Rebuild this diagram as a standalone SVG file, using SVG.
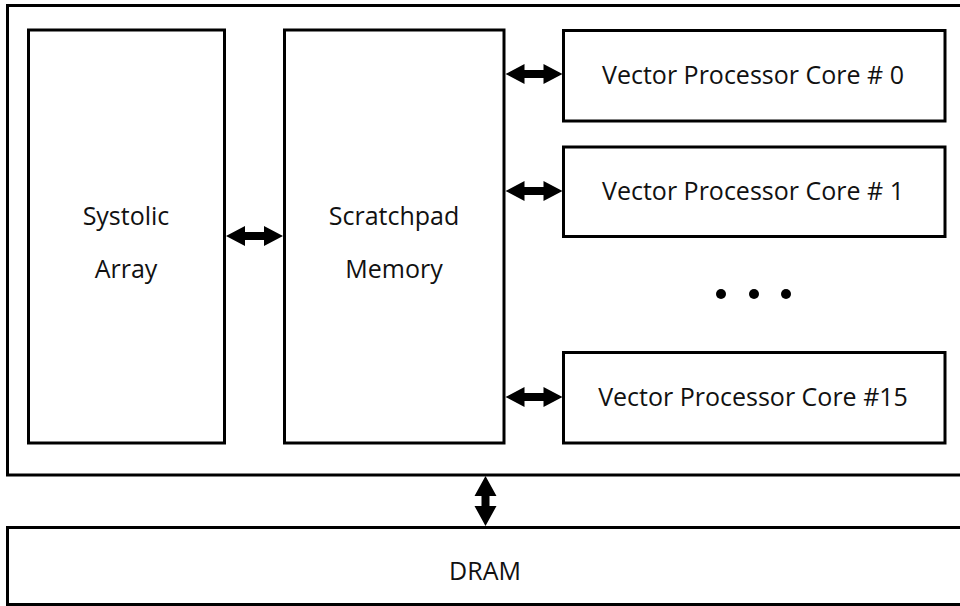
<svg xmlns="http://www.w3.org/2000/svg" xmlns:xlink="http://www.w3.org/1999/xlink" width="960" height="606" viewBox="0 0 960 606">
  <style>
    .box { fill: #ffffff; stroke: #000000; stroke-width: 3; }
    .label { font-family: "Open Sans", "Noto Sans", "Liberation Sans", sans-serif; font-size: 25px; fill: #111111; text-anchor: middle; }
    .arrow { fill: #000000; }
    .dot { fill: #000000; }
  </style>
  <defs>
    <!-- bidirectional block arrow, horizontal, centred on the origin -->
    <path id="dblArrowH" d="M -28.5 0 L -9.5 -10 L -9.5 -4 L 9.5 -4 L 9.5 -10 L 28.5 0 L 9.5 10 L 9.5 4 L -9.5 4 L -9.5 10 Z"/>
    <!-- bidirectional block arrow, vertical, centred on the origin -->
    <path id="dblArrowV" d="M 0 -25 L -11 -5 L -4 -5 L -4 5 L -11 5 L 0 25 L 11 5 L 4 5 L 4 -5 L 11 -5 Z"/>
  </defs>

  <rect width="960" height="606" fill="#ffffff"/>

  <g id="chip">
    <rect class="box" x="7.5" y="5.5" width="962" height="469.5"/>
  </g>

  <g id="systolic-array">
    <rect class="box" x="28.5" y="30" width="196" height="413"/>
    <text class="label" x="126" y="225">Systolic</text>
    <text class="label" x="126" y="278">Array</text>
  </g>

  <g id="scratchpad-memory">
    <rect class="box" x="284.5" y="30" width="219.5" height="413"/>
    <text class="label" x="394" y="225">Scratchpad</text>
    <text class="label" x="394" y="278">Memory</text>
  </g>

  <g id="vpc-0">
    <rect class="box" x="563.5" y="30.5" width="381.5" height="90.5"/>
    <text class="label" x="753" y="84">Vector Processor Core # 0</text>
  </g>

  <g id="vpc-1">
    <rect class="box" x="563.5" y="147" width="381.5" height="89.5"/>
    <text class="label" x="753" y="200">Vector Processor Core # 1</text>
  </g>

  <g id="vpc-ellipsis">
    <circle class="dot" cx="721" cy="294" r="5"/>
    <circle class="dot" cx="754" cy="294" r="5"/>
    <circle class="dot" cx="786" cy="294" r="5"/>
  </g>

  <g id="vpc-15">
    <rect class="box" x="563.5" y="352.5" width="381.5" height="90.5"/>
    <text class="label" x="753" y="406">Vector Processor Core #15</text>
  </g>

  <g id="dram">
    <rect class="box" x="7.5" y="527.5" width="962" height="77"/>
    <text class="label" x="485" y="580">DRAM</text>
  </g>

  <g id="connectors" class="arrow">
    <use xlink:href="#dblArrowH" transform="translate(254.5,236)"/>
    <use xlink:href="#dblArrowH" transform="translate(534,74)"/>
    <use xlink:href="#dblArrowH" transform="translate(534,191)"/>
    <use xlink:href="#dblArrowH" transform="translate(534,397)"/>
    <use xlink:href="#dblArrowV" transform="translate(485.5,501)"/>
  </g>
</svg>
